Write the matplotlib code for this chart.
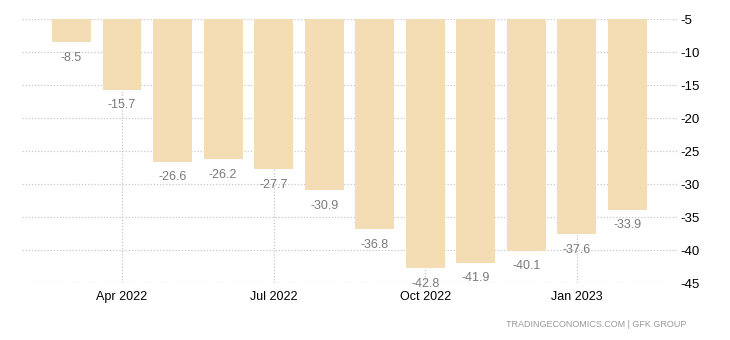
import matplotlib.pyplot as plt

months = ["Mar 2022", "Apr 2022", "May 2022", "Jun 2022", "Jul 2022", "Aug 2022",
          "Sep 2022", "Oct 2022", "Nov 2022", "Dec 2022", "Jan 2023", "Feb 2023"]
values = [-8.5, -15.7, -26.6, -26.2, -27.7, -30.9, -36.8, -42.8, -41.9, -40.1, -37.6, -33.9]
tick_labels = ["Apr 2022", "Jul 2022", "Oct 2022", "Jan 2023"]
y_ticks = [-5, -10, -15, -20, -25, -30, -35, -40, -45]

plt.rcParams["font.family"] = ["Liberation Sans", "DejaVu Sans"]

fig = plt.figure(figsize=(7.3, 3.4), dpi=100)
ax = fig.add_axes([0.0301, 0.1676, 0.8986, 0.7765])

x = list(range(len(months)))
base = -5
ax.bar(x, [v - base for v in values], bottom=base, width=0.77,
       color="#f4ddb4", zorder=3)

for xi, v in zip(x, values):
    ax.annotate(f"{v:.1f}", (xi, v), xytext=(0, -7), textcoords="offset points",
                ha="center", va="top", fontsize=9, color="#7a7a7a", zorder=4)

ax.set_xlim(-0.98, 12.0)
ax.set_ylim(-45, -5)
ax.set_yticks(y_ticks)
ax.set_yticklabels([str(t) for t in y_ticks])
ax.set_xticks([months.index(t) for t in tick_labels])
ax.set_xticklabels(tick_labels)

ax.yaxis.tick_right()
ax.tick_params(axis="both", length=0, labelsize=9.5, colors="black")
ax.tick_params(axis="y", pad=2)
ax.tick_params(axis="x", labelsize=9, pad=6)
ax.grid(True, color="#c8c8c8", linestyle=(0, (1, 1.5)), linewidth=0.9, zorder=0)
for s in ax.spines.values():
    s.set_visible(False)

fig.text(0.94, 0.045, "TRADINGECONOMICS.COM | GFK GROUP", ha="right", va="center",
         fontsize=6.5, color="#999999")

fig.savefig("out.png", dpi=100)
